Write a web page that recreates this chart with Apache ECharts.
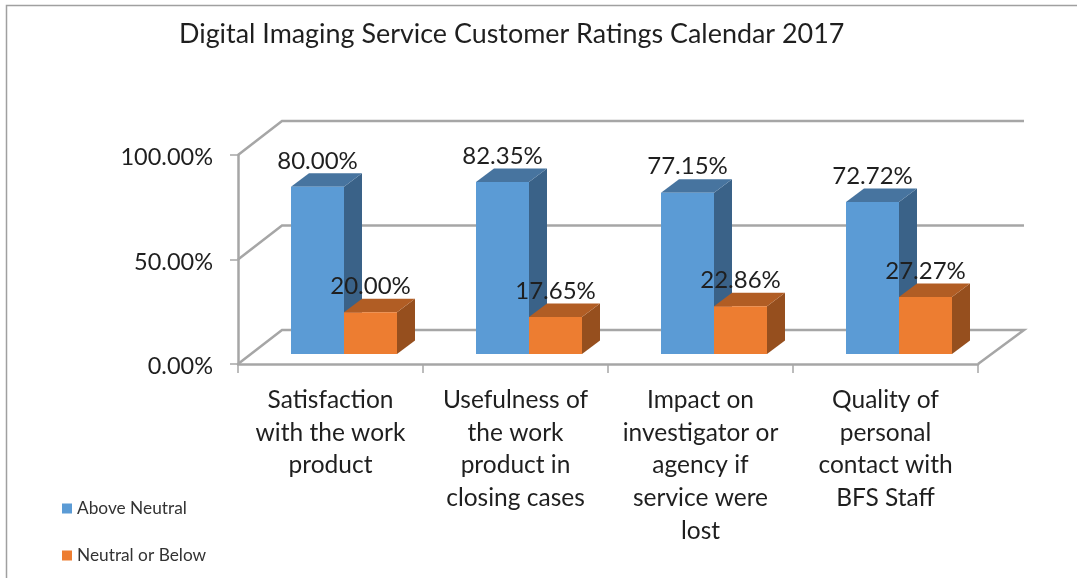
<!DOCTYPE html>
<html><head><meta charset="utf-8">
<style>html,body{margin:0;padding:0;background:#fff}#c{width:1077px;height:578px}</style>
<script src="https://cdn.jsdelivr.net/npm/echarts@6/dist/echarts.min.js"></script>
</head><body><div id="c"></div>
<script>
var categories = ['Satisfaction\nwith the work\nproduct','Usefulness of\nthe work\nproduct in\nclosing cases','Impact on\ninvestigator or\nagency if\nservice were\nlost','Quality of\npersonal\ncontact with\nBFS Staff'];
var aboveNeutral = [0.80,0.8235,0.7715,0.7272];
var neutralOrBelow = [0.20,0.1765,0.2286,0.2727];
var yTicks = [0,0.5,1];
var FONT = 'Lato, Carlito, sans-serif';
var TEXT = '#1f1f1f', LINE = '#a6a6a6';
var BACK = [44,-34], BACKR = 46, PLANE = [13.5,-10], DEPTH = [18,-13.5], BAR = 53;

function poly(pts, fill){ return {type:'polygon',shape:{points:pts},style:{fill:fill},silent:true}; }
function barSeries(name, values, sign, front, top, side){
  return {
    name:name, type:'custom', coordinateSystem:'cartesian2d', z:3,
    itemStyle:{color:front},
    encode:{x:0,y:1},
    data:values.map(function(v,i){return [i,v];}),
    renderItem:function(params,api){
      var b=api.coord([api.value(0),0]), t=api.coord([api.value(0),api.value(1)]);
      var x0=b[0]+PLANE[0]+(sign<0?-BAR:0), x1=x0+BAR, y0=b[1]+PLANE[1], y1=t[1]+PLANE[1];
      var dx=DEPTH[0], dy=DEPTH[1];
      return {type:'group',children:[
        poly([[x1,y0],[x1+dx,y0+dy],[x1+dx,y1+dy],[x1,y1]],side),
        poly([[x0,y1],[x1,y1],[x1+dx,y1+dy],[x0+dx,y1+dy]],top),
        poly([[x0,y0],[x1,y0],[x1,y1],[x0,y1]],front),
        {type:'text',z2:10,silent:true,style:{text:(api.value(1)*100).toFixed(2)+'%',x:(x0+x1)/2,y:y1-26,
          align:'center',verticalAlign:'middle',font:'24px '+FONT,fill:TEXT}}
      ]};
    }
  };
}
var option = {
  animation:false, backgroundColor:'#fff',
  title:{text:'Digital Imaging Service Customer Ratings Calendar 2017',left:174,top:16,
    textStyle:{fontFamily:FONT,fontSize:26.9,fontWeight:'normal',color:TEXT}},
  legend:{orient:'vertical',left:57,top:495,itemWidth:10,itemHeight:10,itemGap:30,icon:'rect',
    textStyle:{fontFamily:FONT,fontSize:17.3,color:'#333'},data:['Above Neutral','Neutral or Below']},
  grid:{left:238,right:99,top:155,bottom:214},
  xAxis:{type:'category',data:categories,boundaryGap:true,
    axisLine:{lineStyle:{color:LINE,width:2.5}},
    axisTick:{show:true,alignWithLabel:false,length:9,lineStyle:{color:LINE,width:1.5}},
    axisLabel:{interval:0,fontFamily:FONT,fontSize:24.5,lineHeight:32.6,color:TEXT,margin:20}},
  yAxis:{type:'value',min:0,max:1,interval:0.5,
    axisLine:{show:true,lineStyle:{color:LINE,width:2.5}},
    axisTick:{show:true,length:8,lineStyle:{color:LINE,width:1.5}},
    axisLabel:{fontFamily:FONT,fontSize:23.5,color:TEXT,margin:25,verticalAlign:'top',lineHeight:5,formatter:function(v){return (v*100).toFixed(2)+'%';}},
    splitLine:{show:false}},
  graphic:[{type:'polyline',silent:true,z:0,shape:{points:[[6.5,578],[6.5,5.5],[1077,5.5]]},style:{stroke:'#a0a0a0',lineWidth:1.5,fill:null}}],
  series:[
    {name:'wall',type:'custom',coordinateSystem:'cartesian2d',z:1,silent:true,legendHoverLink:false,
      data:yTicks.map(function(v){return [0,v];}),encode:{y:1},
      renderItem:function(params,api){
        var v=api.value(1), a=api.coord([0,v]), w=params.coordSys;
        var L=w.x, R=w.x+w.width;
        var pts=[[L,a[1]],[L+BACK[0],a[1]+BACK[1]],[R+BACKR,a[1]+BACK[1]]];
        if(v===0) pts.push([R,a[1]]);
        return {type:'polyline',silent:true,shape:{points:pts},style:{stroke:LINE,lineWidth:2.5,fill:null}};
      }},
    barSeries('Above Neutral',aboveNeutral,-1,'#5B9BD5','#47749F','#3A6288'),
    barSeries('Neutral or Below',neutralOrBelow,1,'#ED7D31','#B15D24','#964F1E')
  ]
};
echarts.init(document.getElementById('c'),null,{renderer:'canvas'}).setOption(option);
</script></body></html>
